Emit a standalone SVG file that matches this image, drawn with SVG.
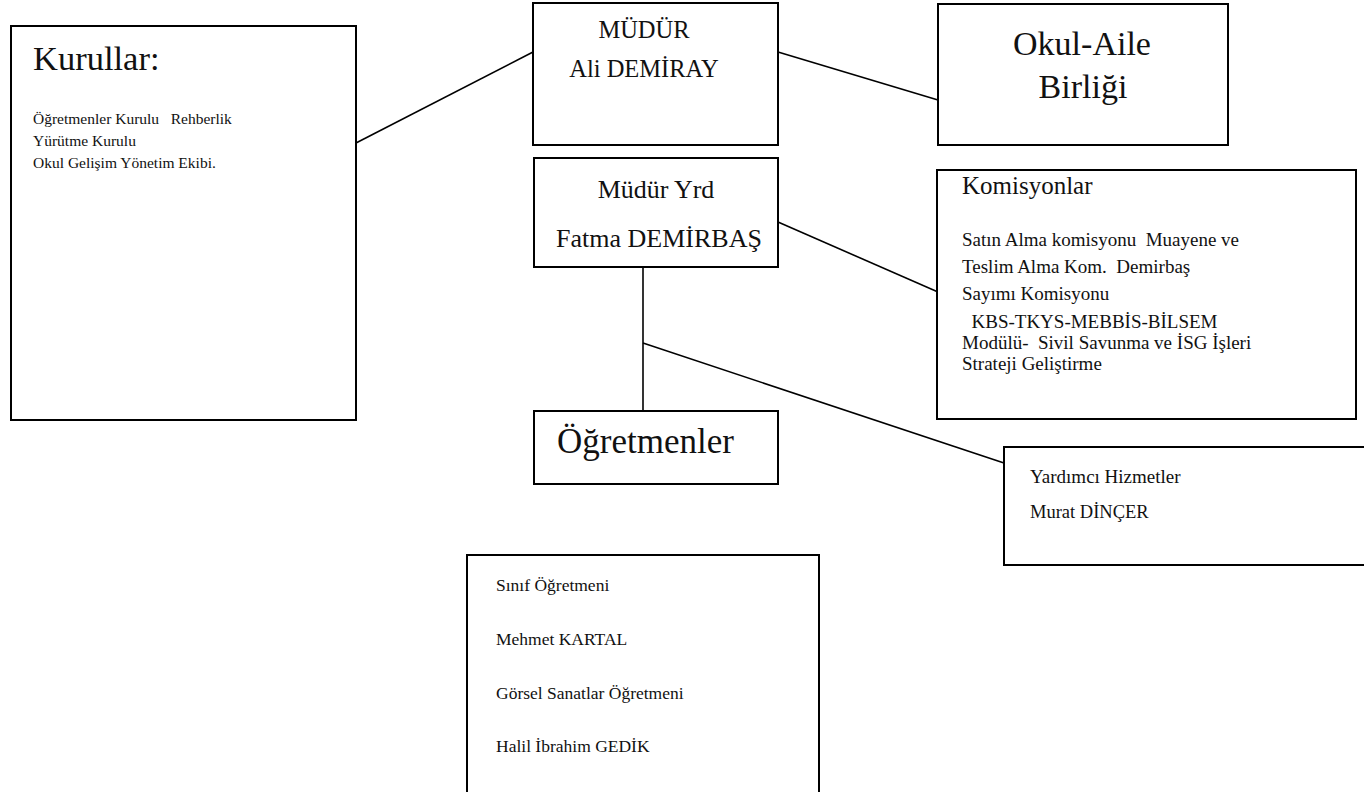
<svg xmlns="http://www.w3.org/2000/svg" width="1364" height="792" viewBox="0 0 1364 792">
<style>
.box{fill:#fff;stroke:#000;stroke-width:2}
.ln{stroke:#000;stroke-width:1.6;fill:none}
.t{font-family:"Liberation Serif","DejaVu Serif",serif;fill:#111}
.c{text-anchor:middle}
</style>
<rect width="1364" height="792" fill="#fff"/>
<g id="connectors">
<line class="ln" x1="356" y1="143" x2="533" y2="52"/>
<line class="ln" x1="778" y1="52" x2="938" y2="100"/>
<line class="ln" x1="778" y1="222" x2="938" y2="292"/>
<line class="ln" x1="643" y1="267" x2="643" y2="411"/>
<line class="ln" x1="643" y1="343" x2="1004" y2="463"/>
</g>
<g id="kurullar">
<rect class="box" x="11" y="26" width="345" height="394"/>
<text class="t" x="33" y="70" font-size="34.5">Kurullar:</text>
<text class="t" x="33" y="124" font-size="15.5" xml:space="preserve">Öğretmenler Kurulu   Rehberlik</text>
<text class="t" x="33" y="146" font-size="15.5">Yürütme Kurulu</text>
<text class="t" x="33" y="168" font-size="15.5">Okul Gelişim Yönetim Ekibi.</text>
</g>
<g id="mudur">
<rect class="box" x="533" y="3" width="245" height="142"/>
<text class="t c" x="644" y="38" font-size="24.5">MÜDÜR</text>
<text class="t c" x="644" y="77" font-size="24.5">Ali DEMİRAY</text>
</g>
<g id="okul-aile">
<rect class="box" x="938" y="4" width="290" height="141"/>
<text class="t c" x="1082" y="55" font-size="34">Okul-Aile</text>
<text class="t c" x="1083" y="98" font-size="34">Birliği</text>
</g>
<g id="mudur-yrd">
<rect class="box" x="534" y="158" width="244" height="109"/>
<text class="t c" x="656" y="198" font-size="26">Müdür Yrd</text>
<text class="t c" x="659" y="247" font-size="26">Fatma DEMİRBAŞ</text>
</g>
<g id="komisyonlar">
<rect class="box" x="937" y="170" width="419" height="249"/>
<text class="t" x="962" y="194" font-size="25">Komisyonlar</text>
<text class="t" x="962" y="246" font-size="19" xml:space="preserve">Satın Alma komisyonu  Muayene ve</text>
<text class="t" x="962" y="273" font-size="19" xml:space="preserve">Teslim Alma Kom.  Demirbaş</text>
<text class="t" x="962" y="300" font-size="19">Sayımı Komisyonu</text>
<text class="t" x="962" y="328" font-size="19" xml:space="preserve">  KBS-TKYS-MEBBİS-BİLSEM</text>
<text class="t" x="962" y="349" font-size="19" xml:space="preserve">Modülü-  Sivil Savunma ve İSG İşleri</text>
<text class="t" x="962" y="370" font-size="19">Strateji Geliştirme</text>
</g>
<g id="ogretmenler">
<rect class="box" x="534" y="411" width="244" height="73"/>
<text class="t" x="557" y="453" font-size="35">Öğretmenler</text>
</g>
<g id="yardimci">
<rect class="box" x="1004" y="447" width="362" height="118"/>
<text class="t" x="1030" y="483" font-size="19">Yardımcı Hizmetler</text>
<text class="t" x="1030" y="518" font-size="18.5">Murat DİNÇER</text>
</g>
<g id="sinif">
<rect class="box" x="467" y="555" width="352" height="245"/>
<text class="t" x="496" y="591" font-size="17.5">Sınıf Öğretmeni</text>
<text class="t" x="496" y="645" font-size="17.5">Mehmet KARTAL</text>
<text class="t" x="496" y="699" font-size="17.5">Görsel Sanatlar Öğretmeni</text>
<text class="t" x="496" y="752" font-size="17.5">Halil İbrahim GEDİK</text>
</g>
</svg>
